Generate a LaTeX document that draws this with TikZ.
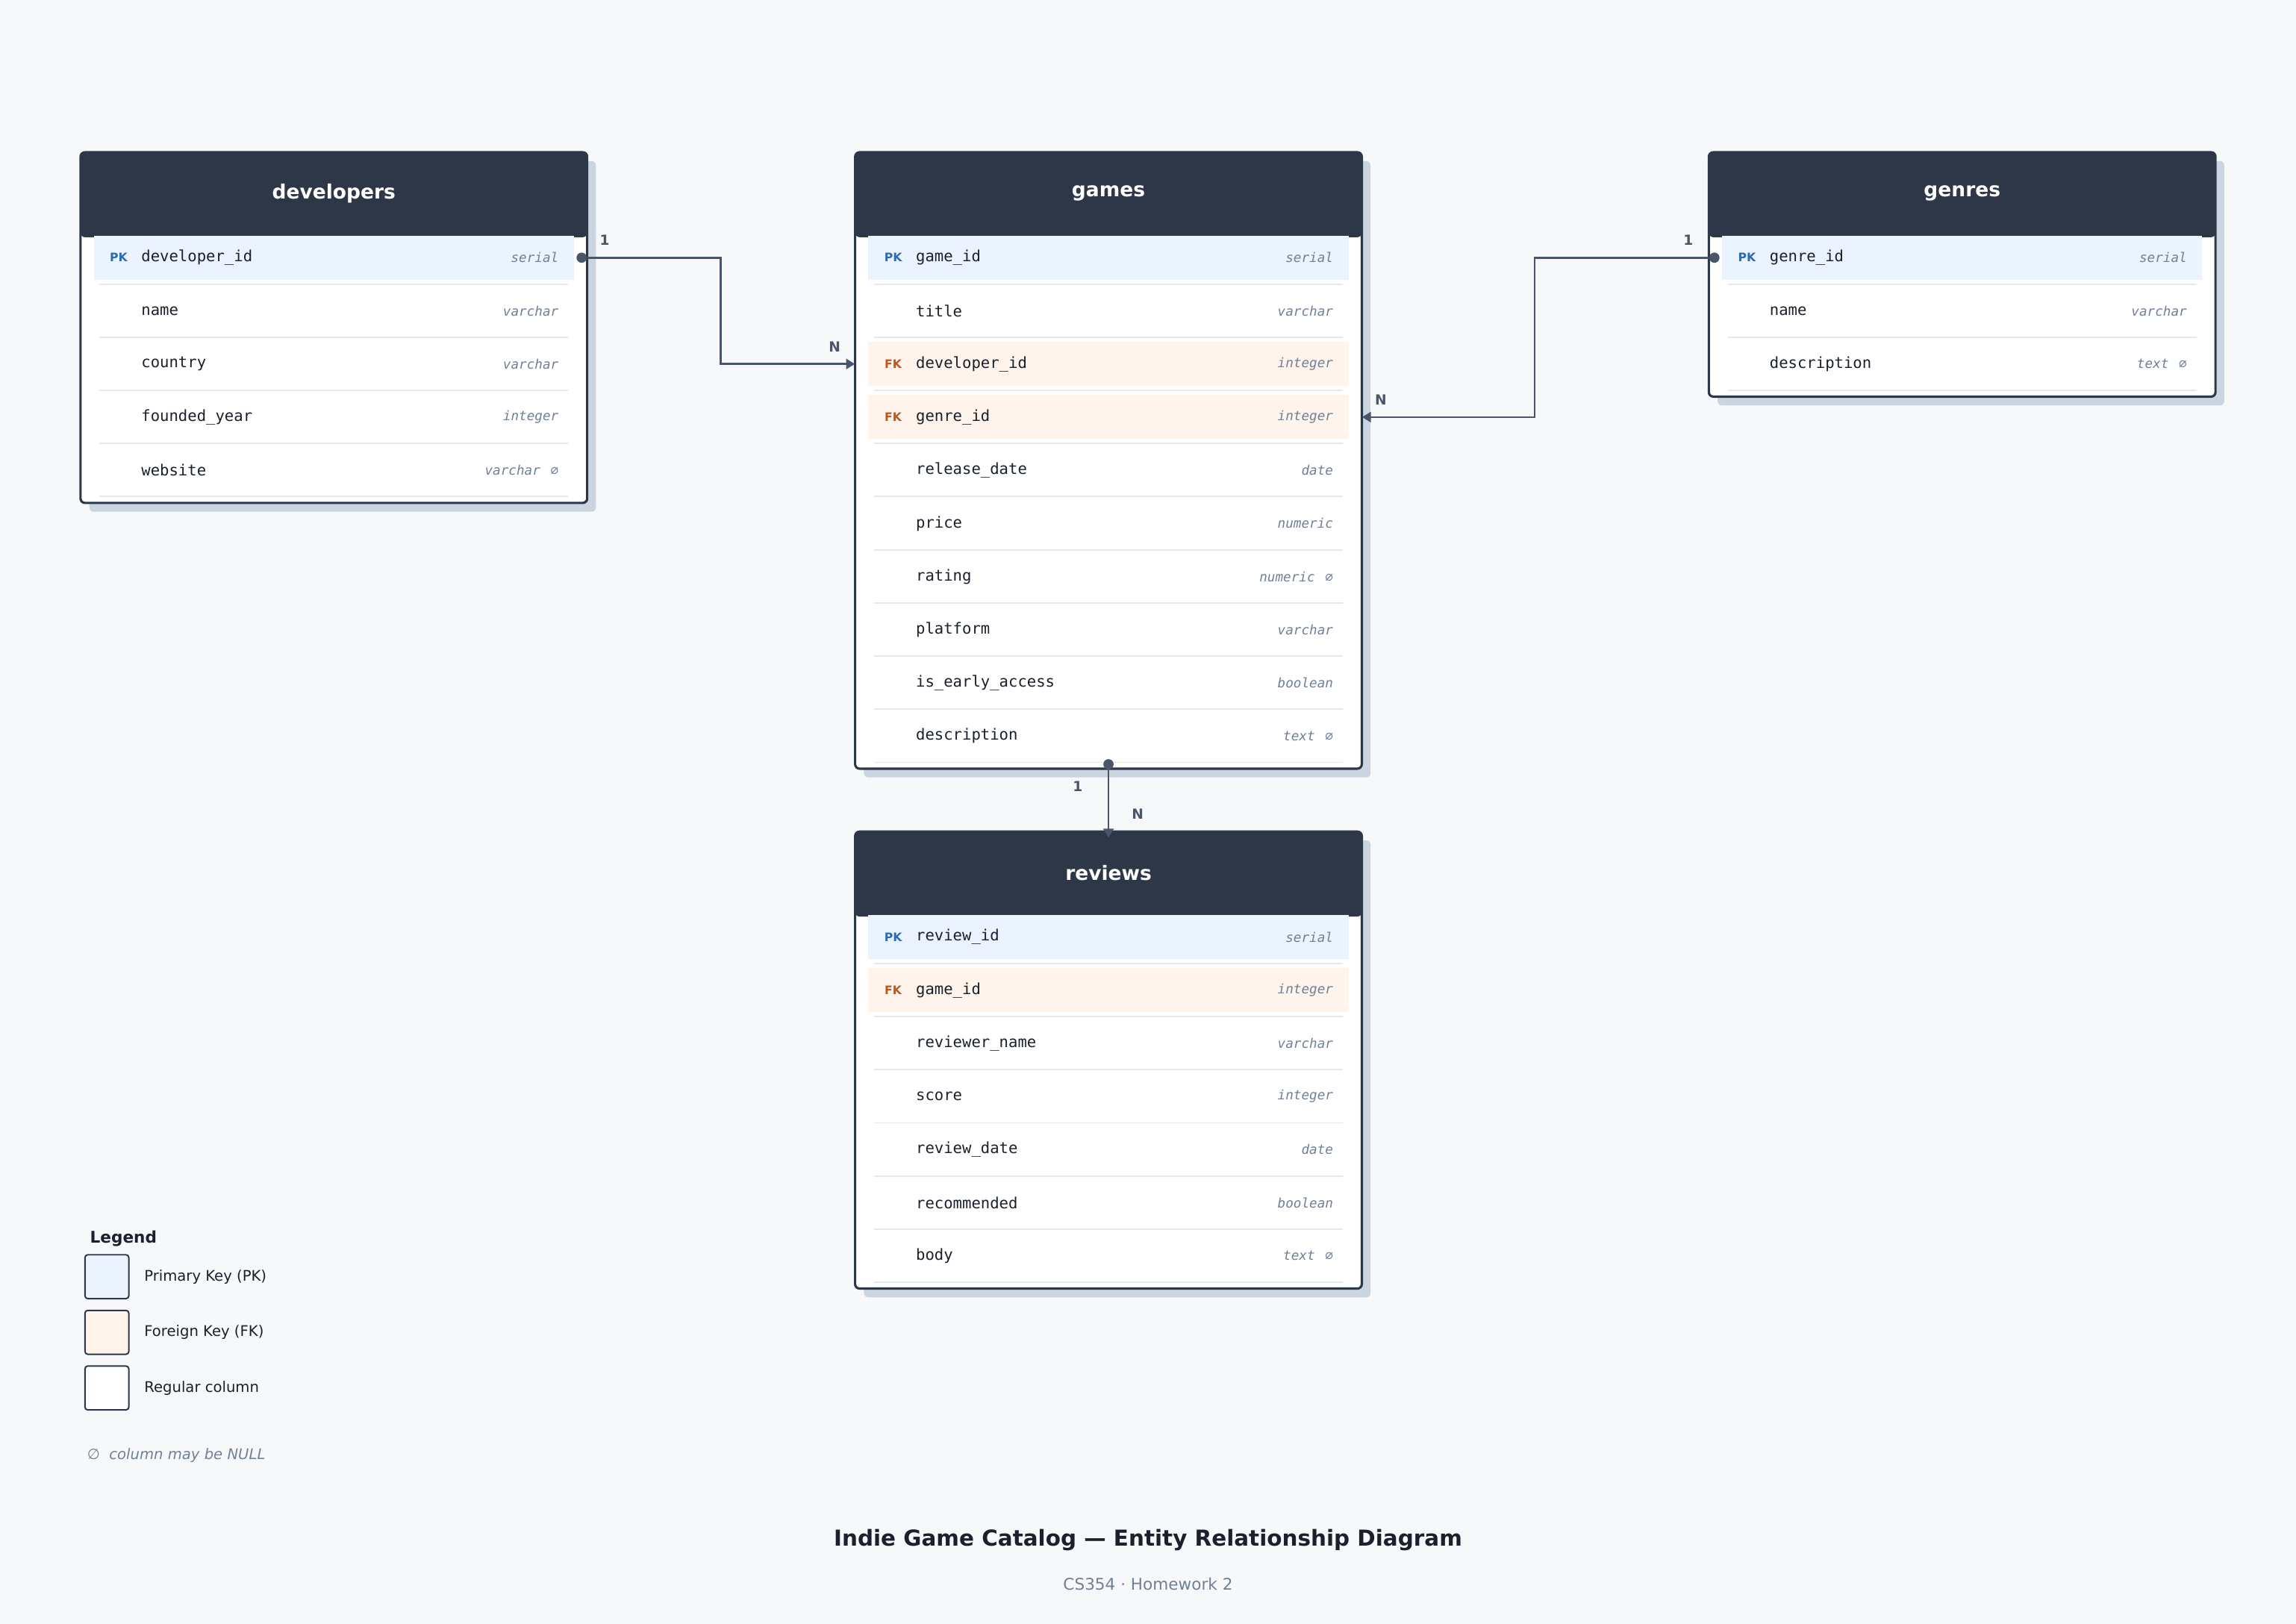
\documentclass[tikz,border=0pt]{standalone}
\usepackage{fontspec}
\setmainfont{DejaVu Sans}
\setmonofont{DejaVu Sans Mono}
\usetikzlibrary{arrows.meta,positioning}

\definecolor{bgc}{HTML}{F7F8FA}
\definecolor{headc}{HTML}{2E3748}
\definecolor{shadowc}{HTML}{CBD5E1}
\definecolor{pkfill}{HTML}{EBF3FE}
\definecolor{fkfill}{HTML}{FEF4EB}
\definecolor{pktext}{HTML}{2B6CB0}
\definecolor{fktext}{HTML}{C05621}
\definecolor{typec}{HTML}{718096}
\definecolor{linkc}{HTML}{4A5568}
\definecolor{sepc}{HTML}{E2E8F0}
\definecolor{inkc}{HTML}{1A202C}

\newcommand\nullmark{\hspace{7pt}∅}

\tikzset{
  titletext/.style={text=white, font=\fontsize{13.5}{16}\bfseries\selectfont},
  keytext/.style={font=\fontsize{8}{10}\bfseries\selectfont},
  coltext/.style={anchor=west, text=inkc, font=\fontsize{10.5}{12}\ttfamily\selectfont},
  typetext/.style={anchor=east, text=typec, font=\fontsize{9}{11}\ttfamily\itshape\selectfont},
  rowspot/.style={minimum width=346pt, minimum height=30pt, inner sep=0pt},
  pk/.style={fill=pkfill}, pk lbl/.style={text=pktext},
  fk/.style={fill=fkfill}, fk lbl/.style={text=fktext},
  col/.style={fill=white}, col lbl/.style={},
  relline/.style={draw=linkc, line width=1.4pt},
  cardtext/.style={text=linkc, font=\fontsize{9.5}{11}\bfseries\selectfont},
  legbox/.style={draw=headc, line width=1pt, rounded corners=2, minimum size=30pt, inner sep=0pt},
  legtext/.style={anchor=west, text=inkc, font=\fontsize{10}{12}\selectfont}
}

% #1 id, #2 left, #3 top, #4 title, #5 number of rows, #6 rows
\newcommand\erdtable[6]{%
  \pgfmathsetmacro\tbot{#3+58+#5*36.3}
  \fill[shadowc, rounded corners=3] (#2+6,#3+6) rectangle (#2+352,\tbot+6);
  \draw[headc, line width=1.6pt, fill=white, rounded corners=3] (#2,#3) rectangle (#2+346,\tbot);
  \fill[headc, rounded corners=3] (#2,#3) rectangle (#2+346,#3+58);
  \node[titletext] (#1) at (#2+173,#3+28) {#4};
  \foreach \s/\k/\n/\t [count=\i] in {#6} {
    \pgfmathsetmacro\ry{#3+72+(\i-1)*36.3}
    \fill[\s] (#2+9,\ry-15) rectangle (#2+337,\ry+15);
    \draw[sepc, line width=1pt] (#2+13,\ry+18) -- (#2+333,\ry+18);
    \node[rowspot] (#1-\i) at (#2+173,\ry) {};
    \node[keytext, \s\space lbl] at (#2+26,\ry) {\k};
    \node[coltext] at (#2+38,\ry) {\n};
    \node[typetext] at (#2+330,\ry) {\t};
  }
}

\begin{document}
\begin{tikzpicture}[x=1pt, y=-1pt]
  \fill[bgc] (0,0) rectangle (1568,1109);
  \useasboundingbox (0,0) rectangle (1568,1109);

  % Tables
  \erdtable{dev}{55}{104}{developers}{5}{
    pk/PK/developer\_id/serial, col//name/varchar, col//country/varchar,
    col//founded\_year/integer, col//website/varchar\nullmark}
  \erdtable{gam}{584}{104}{games}{10}{
    pk/PK/game\_id/serial, col//title/varchar, fk/FK/developer\_id/integer,
    fk/FK/genre\_id/integer, col//release\_date/date, col//price/numeric,
    col//rating/numeric\nullmark, col//platform/varchar,
    col//is\_early\_access/boolean, col//description/text\nullmark}
  \erdtable{gen}{1167}{104}{genres}{3}{
    pk/PK/genre\_id/serial, col//name/varchar, col//description/text\nullmark}
  \erdtable{rev}{584}{568}{reviews}{7}{
    pk/PK/review\_id/serial, fk/FK/game\_id/integer, col//reviewer\_name/varchar,
    col//score/integer, col//review\_date/date, col//recommended/boolean,
    col//body/text\nullmark}

  % Relations
  \coordinate (devbend) at (492,176);
  \draw[relline, -{Triangle[length=6pt,width=7pt]}] (dev-1.east) -- (devbend) |- (gam-3.west);
  \fill[linkc] (dev-1.east) ++(-4,0) circle (3.5);
  \node[cardtext] at (413,164) {1};
  \node[cardtext] at (570,237) {N};

  \coordinate (genbend) at (1048,176);
  \draw[relline, -{Triangle[length=6pt,width=7pt]}] (gen-1.west) -- (genbend) |- (gam-4.east);
  \fill[linkc] (gen-1.west) ++(4,0) circle (3.5);
  \node[cardtext] at (1153,164) {1};
  \node[cardtext] at (943,273) {N};

  \coordinate (gamfoot) at (757,522);
  \coordinate (revhead) at (757,572);
  \draw[relline, -{Triangle[length=6pt,width=7pt]}] (gamfoot) -- (revhead);
  \fill[linkc] (gamfoot) circle (3.5);
  \node[cardtext] at (736,537) {1};
  \node[cardtext] at (777,556) {N};

  % Legend
  \node[anchor=west, text=inkc, font=\fontsize{11}{13}\bfseries\selectfont] (legtitle) at (58,846) {Legend};
  \node[legbox, fill=pkfill] (legpk) at (73,872) {};
  \node[legbox, fill=fkfill] (legfk) at (73,910) {};
  \node[legbox, fill=white] (legcol) at (73,948) {};
  \node[legtext] at (95,872) {Primary Key (PK)};
  \node[legtext] at (95,910) {Foreign Key (FK)};
  \node[legtext] at (95,948) {Regular column};
  \node[anchor=west, text=typec, font=\fontsize{10}{12}\itshape\selectfont] (nullnote) at (56,994) {∅\ \ column may be NULL};

  % Caption
  \node[text=inkc, font=\fontsize{15}{18}\bfseries\selectfont] (caption) at (784,1052) {Indie Game Catalog — Entity Relationship Diagram};
  \node[text=typec, font=\fontsize{11}{13}\selectfont] (subcaption) at (784,1082) {CS354 · Homework 2};
\end{tikzpicture}
\end{document}
